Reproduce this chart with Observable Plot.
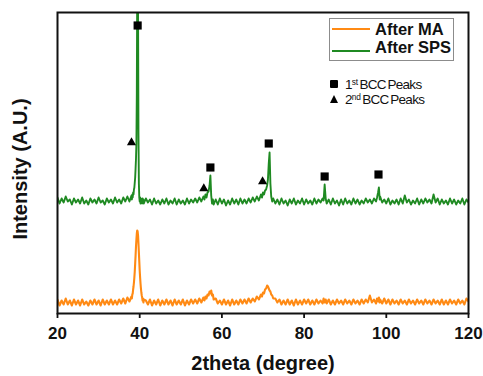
<!DOCTYPE html>
<html><head><meta charset="utf-8">
<script src="https://cdn.jsdelivr.net/npm/d3@7"></script>
<script src="https://cdn.jsdelivr.net/npm/@observablehq/plot@0.6"></script>
<style>
body{margin:0;background:#fff;font-family:"Liberation Sans",Arial,sans-serif;}
#wrap{position:relative;width:483px;height:376px;overflow:hidden;}
#wrap svg{position:absolute;left:0;top:0;}
.abs{position:absolute;white-space:nowrap;color:#111;}
.lg{font-weight:bold;font-size:16.5px;line-height:15px;}
.mk{font-size:13.5px;line-height:13px;letter-spacing:-0.7px;word-spacing:-1.5px;}
.mk sup{font-size:0.62em;vertical-align:0;position:relative;top:-0.45em;letter-spacing:-0.2px;}
</style></head>
<body><div id="wrap"></div>
<script>
// 2theta sampling (degrees)
const twoTheta = [
  20,20.5,21,21.5,22,22.5,23,23.5,24,24.5,25,25.5,26,26.5,27,27.5,28,28.5,29,29.5,30,30.5,31,31.5,32,32.5,33,33.5,34,34.5,35,35.5,36,36.5,37,37.5,
  38,38.1,38.2,38.3,38.4,38.5,38.6,38.7,38.8,38.9,39,39.1,39.2,39.3,39.4,39.5,39.6,39.7,39.8,39.9,40,40.1,40.2,40.3,40.4,40.5,40.6,40.7,40.8,40.9,41,
  41.5,42,42.5,43,43.5,44,44.5,45,45.5,46,46.5,47,47.5,48,48.5,49,49.5,50,50.5,51,51.5,52,52.5,53,53.5,54,54.5,55,55.5,
  55.75,56,56.25,56.5,56.75,57,57.2,57.4,57.6,57.8,58,
  58.5,59,59.5,60,60.5,61,61.5,62,62.5,63,63.5,64,64.5,65,65.5,66,66.5,67,67.5,68,68.5,69,69.5,
  69.75,70,70.25,70.5,70.75,71,71.2,71.4,71.6,71.8,72,72.25,72.5,
  73,73.5,74,74.5,75,75.5,76,76.5,77,77.5,78,78.5,79,79.5,80,80.5,81,81.5,82,82.5,83,83.5,84,84.5,
  84.75,85,85.25,
  85.5,86,86.5,87,87.5,88,88.5,89,89.5,90,90.5,91,91.5,92,92.5,93,93.5,94,94.5,95,95.5,96,96.5,97,97.5,
  97.75,98,98.2,98.4,
  98.5,99,99.5,100,100.5,101,101.5,102,102.5,103,103.5,104,104.5,105,105.5,106,106.5,107,107.5,108,108.5,109,109.5,110,110.5,111,111.5,112,112.5,113,113.5,114,114.5,115,115.5,116,116.5,117,117.5,118,118.5,119,119.5,120
];
// After SPS intensity (a.u., offset)
const afterSPS = [
  116,110,115,111,117,112,114,109,115,111,114,110,116,110,113,109,115,111,114,110,116,111,113,109,115,111,114,110,116,111,114,110,116,112,117,112,
  118,114,119,116,121,119,124,126,131,136,145,155,170,220,330,360,300,180,130,116,112,116,110,115,111,114,110,115,111,114,110,
  115,111,114,109,115,110,113,109,114,110,115,109,113,110,115,109,114,110,113,109,115,110,114,111,115,111,116,112,117,
  114,119,116,121,122,128,138,118,110,114,109,
  114,109,115,110,114,108,113,109,115,110,114,109,115,110,114,110,115,111,116,112,117,113,119,
  116,121,119,123,124,128,134,150,161,130,117,112,115,
  110,114,109,115,110,113,108,114,110,115,109,113,110,115,109,114,110,113,109,115,110,114,111,115,
  113,129,115,
  110,114,109,115,110,113,108,114,109,115,110,113,109,115,110,114,109,113,110,115,111,114,110,115,112,
  116,121,126,114,
  117,111,114,110,115,109,113,110,114,109,115,110,118,111,114,109,113,110,115,109,114,110,115,111,114,110,119,111,115,109,114,110,113,109,115,110,114,109,113,110,115,109,114,111
];
// After MA intensity (a.u.)
const afterMA = [
  14,8,13,9,15,9,13,8,14,9,13,8,14,9,12,8,13,9,14,9,13,8,14,9,13,9,14,9,13,9,14,10,15,10,16,12,
  17,15,19,20,24,27,31,36,42,50,58,67,74,80,83,82,78,70,61,52,43,36,30,25,21,18,16,13,15,11,14,
  13,9,14,8,13,9,14,8,13,9,14,9,13,8,14,9,13,9,14,8,13,9,14,10,14,10,15,11,16,
  13,17,15,19,18,22,20,23,18,19,14,
  15,10,13,9,14,9,13,8,14,9,13,9,14,10,14,10,15,11,15,12,17,14,19,
  17,21,20,24,25,28,27,25,23,22,19,18,15,
  15,11,14,9,13,9,14,9,13,8,14,9,13,9,14,10,14,9,13,9,14,10,13,10,
  15,11,14,
  10,14,9,13,9,14,10,13,9,14,10,13,9,14,10,13,9,14,10,14,11,18,11,14,10,
  15,12,16,11,
  14,10,15,10,14,9,14,10,13,9,14,10,13,9,14,10,13,9,14,10,13,9,14,10,13,9,14,10,13,9,14,9,13,9,14,10,13,9,14,10,13,9,15,12
];
// Peak markers
const bcc1Theta = [39.5, 57.2, 71.4, 85.0, 98.1];
const bcc1Level = [288, 146, 170, 137, 139];
const bcc2Theta = [38.0, 55.6, 69.9];
const bcc2Level = [171, 125, 132];
const xTicks = [20, 40, 60, 80, 100, 120];

const orange = "#FF8A14", green = "#1F8A22";
const sps = twoTheta.map((t, i) => ({t, v: afterSPS[i]}));
const ma = twoTheta.map((t, i) => ({t, v: afterMA[i]}));
const sq = bcc1Theta.map((t, i) => ({t, v: bcc1Level[i]}));
const tr = bcc2Theta.map((t, i) => ({t, v: bcc2Level[i]}));
const font = '"Liberation Sans", Arial, sans-serif';

const chart = Plot.plot({
  width: 483, height: 376,
  marginLeft: 57, marginRight: 15, marginTop: 12, marginBottom: 63,
  style: {fontFamily: font, background: "transparent", overflow: "visible"},
  x: {domain: [20, 120]},
  y: {domain: [0, 301], axis: null},
  marks: [
    Plot.line(ma, {x: "t", y: "v", stroke: orange, strokeWidth: 2.1, clip: true}),
    Plot.line(sps, {x: "t", y: "v", stroke: green, strokeWidth: 1.9, clip: true}),
    Plot.dot(sq, {x: "t", y: "v", symbol: "square", fill: "#000", stroke: null, r: 4.6}),
    Plot.dot(tr, {x: "t", y: "v", symbol: "triangle", fill: "#000", stroke: null, r: 3.4}),
    Plot.axisX({ticks: xTicks, tickSize: 5, tickPadding: 8, fontSize: 17, fontWeight: "bold", fill: "#111", stroke: "#111", strokeWidth: 1.8, label: null}),
    Plot.frame({stroke: "#111", strokeWidth: 2}),
    Plot.text(["2theta (degree)"], {frameAnchor: "bottom", textAnchor: "middle", lineAnchor: "bottom", dy: 56, fontSize: 20, fontWeight: "bold", fill: "#111", text: d => d}),
    Plot.text(["Intensity (A.U.)"], {frameAnchor: "left", textAnchor: "middle", lineAnchor: "middle", rotate: -90, dx: -37, dy: 6, fontSize: 20, fontWeight: "bold", fill: "#111", text: d => d})
  ]
});
const wrap = document.getElementById("wrap");
wrap.appendChild(chart);

// Legend overlay
const legendHTML = `
<div class="abs" style="left:329px;top:18px;width:125px;height:43px;border:1px solid #8c8c8c;box-sizing:border-box;"></div>
<div class="abs" style="left:332px;top:28px;width:38px;height:2px;background:${orange}"></div>
<div class="abs lg" style="left:375px;top:22px;">After MA</div>
<div class="abs" style="left:332px;top:50px;width:38px;height:2px;background:${green}"></div>
<div class="abs lg" style="left:375px;top:40px;">After SPS</div>
<div class="abs" style="left:330px;top:80px;width:8px;height:8px;background:#000;border-radius:1px"></div>
<div class="abs mk" style="left:345px;top:78px;">1<sup>st</sup> BCC Peaks</div>
<div class="abs" style="left:330px;top:95px;width:0;height:0;border-left:4px solid transparent;border-right:4px solid transparent;border-bottom:8px solid #000"></div>
<div class="abs mk" style="left:345px;top:93px;">2<sup>nd</sup> BCC Peaks</div>`;
const lg = document.createElement("div");
lg.innerHTML = legendHTML;
wrap.appendChild(lg);
</script>
</body></html>
